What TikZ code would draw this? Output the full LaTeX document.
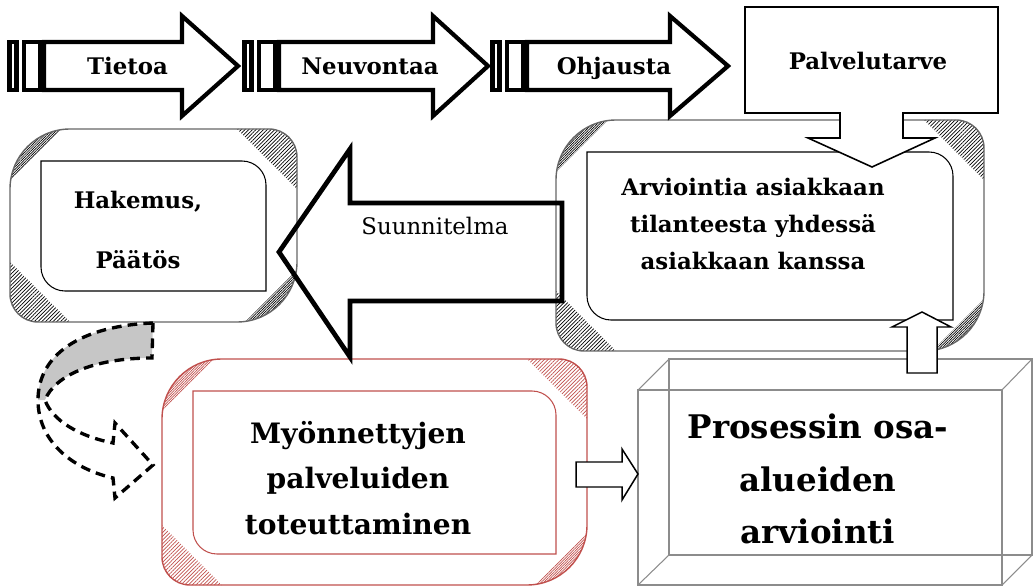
\documentclass[tikz,border=0pt]{standalone}
\usepackage{fontspec}
\setmainfont{DejaVu Serif}
\usepackage{tikz}
\usetikzlibrary{patterns.meta}
\definecolor{boxred}{RGB}{192,80,77}
\definecolor{boxgray}{RGB}{140,140,140}

% bevelled box: colour, outline colour, left, top, right, bottom (pixel units, y down)
\newcommand{\BevelBox}[6]{%
  % hatched corners, clipped to the outer outline
  \begin{scope}
    \clip (#3,#4+60) arc[start angle=180,end angle=270,radius=60]
      -- (#5-28,#4) arc[start angle=270,end angle=360,radius=28]
      -- (#5,#6-60) arc[start angle=0,end angle=90,radius=60]
      -- (#3+28,#6) arc[start angle=90,end angle=180,radius=28] -- cycle;
    \fill[pattern={Lines[angle=45,distance=1pt,line width=.4pt]}, pattern color=#1]
      (#3,#4) -- (#3+52,#4) -- (#3,#4+52) -- cycle
      (#5,#6) -- (#5-52,#6) -- (#5,#6-52) -- cycle;
    \fill[pattern={Lines[angle=45,distance=1.5pt,line width=.4pt]}, pattern color=#1]
      (#5,#4) -- (#5-60,#4) -- (#5,#4+60) -- cycle
      (#3,#6) -- (#3+60,#6) -- (#3,#6-60) -- cycle;
  \end{scope}
  % inner face
  \filldraw[fill=white, draw=#1, line width=.6pt] (#3+31,#4+32) -- (#5-55,#4+32)
    arc[start angle=270,end angle=360,radius=24] -- (#5-31,#6-31) -- (#3+55,#6-31)
    arc[start angle=90,end angle=180,radius=24] -- cycle;
  % outer outline
  \draw[#2, line width=.8pt] (#3,#4+60) arc[start angle=180,end angle=270,radius=60]
    -- (#5-28,#4) arc[start angle=270,end angle=360,radius=28]
    -- (#5,#6-60) arc[start angle=0,end angle=90,radius=60]
    -- (#3+28,#6) arc[start angle=90,end angle=180,radius=28] -- cycle;
}

\begin{document}
\begin{tikzpicture}[x=0.02cm, y=-0.02cm,
    boldlbl/.style={font=\bfseries\fontsize{13}{16}\selectfont, inner sep=0pt},
    blockarrow/.style={draw=black, line width=2.4pt},
    smallarrow/.style={draw=black, fill=white, line width=0.85pt},
    dasharrow/.style={draw=black, line width=1.9pt, dash pattern=on 5.5pt off 3.5pt}]

  \useasboundingbox (0,0) rectangle (1034,587);

  % bevelled boxes
  \BevelBox{black}{black!60}{10}{129}{297}{322}
  \BevelBox{black}{black!60}{556}{120}{984}{351}
  \BevelBox{boxred}{boxred}{162}{359}{587}{585}

  % wire box
  \draw[boxgray, line width=0.6pt] (638,390) rectangle (1002,585);
  \draw[boxgray, line width=0.6pt] (669,359) rectangle (1032,555);
  \foreach \xa/\ya/\xb/\yb in {638/390/669/359, 1002/390/1032/359, 638/585/669/555, 1002/585/1032/555}
  \draw[boxgray, line width=0.6pt] (\xa,\ya) -- (\xb,\yb);

  % callout
  \filldraw[fill=white, draw=black, line width=0.9pt] (745,7) -- (998,7) -- (998,113) -- (903,113)
    -- (903,138) -- (935,138) -- (872,167) -- (808,138) -- (840,138) -- (840,113) -- (745,113) -- cycle;
  \node[boldlbl, anchor=base] (tarve) at (868,70) {Palvelutarve};

  % big arrow to the left
  \draw[blockarrow, line width=2.7pt] (562,203) -- (350,203) -- (350,149) -- (279,252) -- (350,357)
    -- (350,301) -- (562,301) -- cycle;
  \node[font=\fontsize{13}{16}\selectfont, inner sep=0pt, anchor=base] (suunnitelma) at (435,235) {Suunnitelma};

  % small arrows
  \filldraw[smallarrow] (907,373) -- (907,327) -- (892,327) -- (922,312) -- (951,327) -- (937,327) -- (937,373) -- cycle;
  \filldraw[smallarrow] (576,462) -- (622,462) -- (622,449) -- (638,474) -- (622,500) -- (622,487) -- (576,487) -- cycle;

  % dashed curved arrow
  \fill[gray!45] (153,323) .. controls (80,326) and (38,355) .. (38,400) -- (45,400)
    .. controls (55,375) and (95,358) .. (152,358) -- cycle;
  \draw[dasharrow] (153,323) .. controls (80,326) and (38,355) .. (38,400)
    .. controls (38,440) and (70,468) .. (113,478) -- (115,498) -- (153,465) -- (115,423) -- (113,443)
    .. controls (78,436) and (52,420) .. (45,400) .. controls (55,375) and (95,358) .. (152,358) -- cycle;

  % striped arrows on top
  \foreach \xs/\xh/\xt/\nm/\txt in {7/182/240/tietoa/Tietoa, 242/433/490/neuvonta/Neuvontaa, 490/670/730/ohjaus/Ohjausta}{
    \draw[blockarrow] (\xs+2.5,42) rectangle (\xs+9.5,90);
    \draw[blockarrow] (\xs+17,42) rectangle (\xs+33,90);
    \draw[blockarrow] (\xs+37,42) -- (\xh,42) -- (\xh,16) -- (\xt-2,66) -- (\xh,116) -- (\xh,90) -- (\xs+37,90) -- cycle;
    \node[boldlbl, anchor=base] (\nm) at ({(\xs+\xt)/2+4},75) {\txt};
  }

  % box texts
  \node[boldlbl, align=center] (hakemus) at (138,230) {Hakemus,\\[18pt]Päätös};
  \node[font=\bfseries\fontsize{13}{21}\selectfont, align=center, inner sep=0pt] (arviointi) at (753,224)
    {Arviointia asiakkaan\\tilanteesta yhdessä\\asiakkaan kanssa};
  \node[font=\bfseries\fontsize{16}{26}\selectfont, align=center, inner sep=0pt] (toteutus) at (358,478)
    {Myönnettyjen\\palveluiden\\toteuttaminen};
  \node[font=\bfseries\fontsize{18.5}{30}\selectfont, align=center, inner sep=0pt] (osaalueet) at (818,479)
    {Prosessin osa-\\alueiden\\arviointi};

\end{tikzpicture}
\end{document}
